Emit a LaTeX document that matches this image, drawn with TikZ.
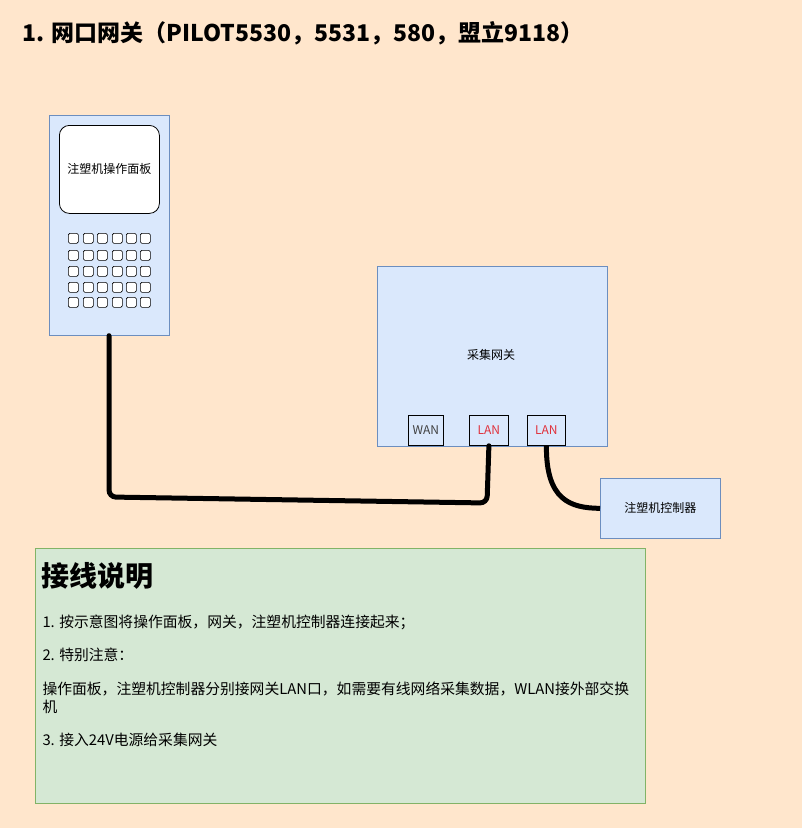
\documentclass[tikz,border=0pt]{standalone}
\usepackage{fontspec}
\setmainfont{Noto Sans CJK SC}
\begin{document}
\begin{tikzpicture}[x=1pt,y=-1pt]
\definecolor{bg}{HTML}{FFE6CC}\definecolor{bx}{HTML}{DAE8FC}\definecolor{bd}{HTML}{6C8EBF}
\definecolor{gf}{HTML}{D5E8D4}\definecolor{gd}{HTML}{82B366}\definecolor{lanred}{HTML}{E0303A}
\tikzset{blue/.style={draw=bd,fill=bx,line width=0.7pt},
  small/.style={font=\fontsize{12}{13}\selectfont},
  cable/.style={line width=5pt,line cap=round,rounded corners=7pt},
  btn/.style={draw=black,fill=white,rounded corners=1.5pt,line width=0.7pt},
  port/.style={draw=black,fill=bx,line width=0.8pt,small}}
\useasboundingbox[fill=bg] (0,0) rectangle (802,828);
\node[anchor=west,font=\bfseries\fontsize{23}{26}\selectfont] (title) at (19,33) {1. 网口网关（PILOT5530，5531，580，盟立9118）};
% panel
\node[blue,minimum width=120,minimum height=220,anchor=north west] (panel) at (49,115) {};
\node[draw=black,fill=white,rounded corners=10pt,minimum width=100,minimum height=88,anchor=north west,small,line width=0.8pt] (screen) at (59,125) {注塑机操作面板};
\foreach \r/\yy in {1/233,2/250,3/266,4/282,5/297}{
 \foreach \c/\xx in {1/68,2/83,3/97,4/112,5/126,6/140}{
  \node[btn,minimum width=10,minimum height=10,inner sep=0,anchor=north west] (b\r\c) at (\xx,\yy) {};}}
% gateway
\node[blue,minimum width=230,minimum height=180,anchor=north west] (gw) at (377,266) {};
\node[small] (gwl) at (491,355) {采集网关};
\node[port,minimum width=35,minimum height=30,anchor=north west,text=black!75] (wan) at (408,415) {WAN};
\node[port,minimum width=39,minimum height=30,anchor=north west,text=lanred] (lan1) at (469,415) {LAN};
\node[port,minimum width=38,minimum height=30,anchor=north west,text=lanred] (lan2) at (527,415) {LAN};
% controller
\node[blue,minimum width=120,minimum height=60,anchor=north west,small] (ctl) at (600,478) {注塑机控制器};
% cables
\draw[cable] (panel.south -| 109,0) -- (109,497) -- (487,503) -- (lan1.south);
\draw[line width=5pt] (lan2.south) .. controls (546,500) and (570,508) .. (ctl.west);
% note
\node[draw=gd,fill=gf,minimum width=610,minimum height=255,anchor=north west,line width=0.7pt] (note) at (35,548) {};
\node[anchor=west,font=\bfseries\fontsize{28}{30}\selectfont] (h) at (38,576) {接线说明};
\begin{scope}[every node/.style={anchor=west,font=\fontsize{14.8}{16}\selectfont}]
\node (l1) at (39,622) {1. 按示意图将操作面板，网关，注塑机控制器连接起来；};
\node (l2) at (39,655) {2. 特别注意：};
\node (l3) at (39,689) {操作面板，注塑机控制器分别接网关LAN口，如需要有线网络采集数据，WLAN接外部交换};
\node (l3b) at (39,707) {机};
\node (l4) at (39,740) {3. 接入24V电源给采集网关};
\end{scope}
\end{tikzpicture}
\end{document}
